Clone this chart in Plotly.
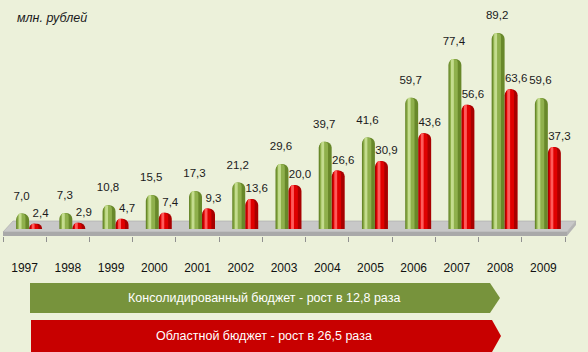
import plotly.graph_objects as go

years = ["1997", "1998", "1999", "2000", "2001", "2002", "2003",
         "2004", "2005", "2006", "2007", "2008", "2009"]
consolidated = [7.0, 7.3, 10.8, 15.5, 17.3, 21.2, 29.6, 39.7, 41.6, 59.7, 77.4, 89.2, 59.6]
regional = [2.4, 2.9, 4.7, 7.4, 9.3, 13.6, 20.0, 26.6, 30.9, 43.6, 56.6, 63.6, 37.3]
unit_label = "млн. рублей"
banner_green = "Консолидированный бюджет - рост в 12,8 раза"
banner_red = "Областной бюджет - рост в 26,5 раза"


def fmt(v):
    return f"{v:.1f}".replace(".", ",")


W, H = 588, 352
ML, MR, MT, MB = 3, 23, 10, 116
PW = W - ML - MR
PH = H - MT - MB
UNIT = PW / len(years)   # px per category


def px(x):
    return (x - ML) / PW


def py(y):
    return (H - MB - y) / PH


FONT = "Liberation Sans, Arial, sans-serif"
BG = "#ecf1da"

xs = list(range(len(years)))
fig = go.Figure()

BW = 0.30          # bar width in category units
G_OFF = -0.197     # left edge of green bar relative to category
R_OFF = 0.104      # left edge of red bar


def cylinder(vals, off, dark, mid, light):
    layers = [(0.0, 1.0, dark, 6), (0.10, 0.62, mid, 4), (0.20, 0.22, light, 1.5)]
    for lo, lw, col, cr in layers:
        fig.add_trace(go.Bar(
            x=xs, y=vals, offset=off + lo * BW, width=lw * BW,
            marker=dict(color=col, cornerradius=cr, line=dict(width=0)),
            hoverinfo="skip", showlegend=False))


cylinder(consolidated, G_OFF, "#68882a", "#8fb04c", "#c4dc8e")
cylinder(regional, R_OFF, "#a80000", "#e00000", "#ff5a5a")

for vals, off, shift, msize in ((consolidated, G_OFF, -1, 16), (regional, R_OFF, 5, 5)):
    fig.add_trace(go.Scatter(
        x=[i + off + BW / 2 + shift / UNIT for i in xs], y=vals, mode="markers+text",
        text=[fmt(v) for v in vals], textposition="top center",
        marker=dict(size=msize, opacity=0), cliponaxis=False,
        textfont=dict(family=FONT, size=11.5, color="#1a1a1a"),
        hoverinfo="skip", showlegend=False))

shapes = [
    # floor top face
    dict(type="path", xref="paper", yref="paper", layer="below",
         path=f"M {px(13)},{py(221)} L {px(576)},{py(221)} L {px(567)},{py(232)} L {px(3)},{py(232)} Z",
         fillcolor="#c8c8c8", line=dict(color="#a8a8a8", width=0.6)),
    # floor front face
    dict(type="path", xref="paper", yref="paper", layer="below",
         path=f"M {px(3)},{py(232)} L {px(567)},{py(232)} L {px(567)},{py(236)} L {px(3)},{py(236)} Z",
         fillcolor="#a9a9a9", line=dict(width=0)),
    # floor right face
    dict(type="path", xref="paper", yref="paper", layer="below",
         path=f"M {px(567)},{py(232)} L {px(576)},{py(221)} L {px(576)},{py(225)} L {px(567)},{py(236)} Z",
         fillcolor="#b4b4b4", line=dict(width=0)),
    # green banner arrow
    dict(type="path", xref="paper", yref="paper",
         path=f"M {px(30)},{py(283)} L {px(490)},{py(283)} L {px(500)},{py(298)} L {px(490)},{py(313)} L {px(30)},{py(313)} Z",
         fillcolor="#77933c", line=dict(width=0)),
    # red banner arrow
    dict(type="path", xref="paper", yref="paper",
         path=f"M {px(31)},{py(320)} L {px(492)},{py(320)} L {px(501)},{py(336)} L {px(492)},{py(352)} L {px(31)},{py(352)} Z",
         fillcolor="#c80000", line=dict(width=0)),
]

annotations = [
    dict(text=unit_label, xref="paper", yref="paper", x=px(15), y=py(18),
         xanchor="left", yanchor="middle", showarrow=False,
         font=dict(family=FONT, size=12.5, color="#1a1a1a", style="italic")),
    dict(text=banner_green, xref="paper", yref="paper", x=px(264), y=py(298),
         xanchor="center", yanchor="middle", showarrow=False,
         font=dict(family=FONT, size=12.5, color="white")),
    dict(text=banner_red, xref="paper", yref="paper", x=px(264), y=py(336),
         xanchor="center", yanchor="middle", showarrow=False,
         font=dict(family=FONT, size=12.5, color="white")),
]

ymin = -7 / 2.197
ymax = ymin + PH / 2.197

fig.update_layout(
    width=W, height=H, margin=dict(l=ML, r=MR, t=MT, b=MB),
    paper_bgcolor=BG, plot_bgcolor="rgba(0,0,0,0)",
    barmode="overlay", showlegend=False,
    shapes=shapes, annotations=annotations,
    xaxis=dict(range=[-0.5, len(years) - 0.5], tickvals=xs, ticktext=years,
               ticks="", showgrid=False, zeroline=False, showline=False,
               ticklabelstandoff=23,
               tickfont=dict(family=FONT, size=12, color="#111111"),
               minor=dict(ticks="outside", ticklen=5, tick0=-0.5, dtick=1,
                          tickcolor="#909090", showgrid=False)),
    yaxis=dict(range=[ymin, ymax], visible=False, showgrid=False, zeroline=False),
)

fig.write_html("out.html")
